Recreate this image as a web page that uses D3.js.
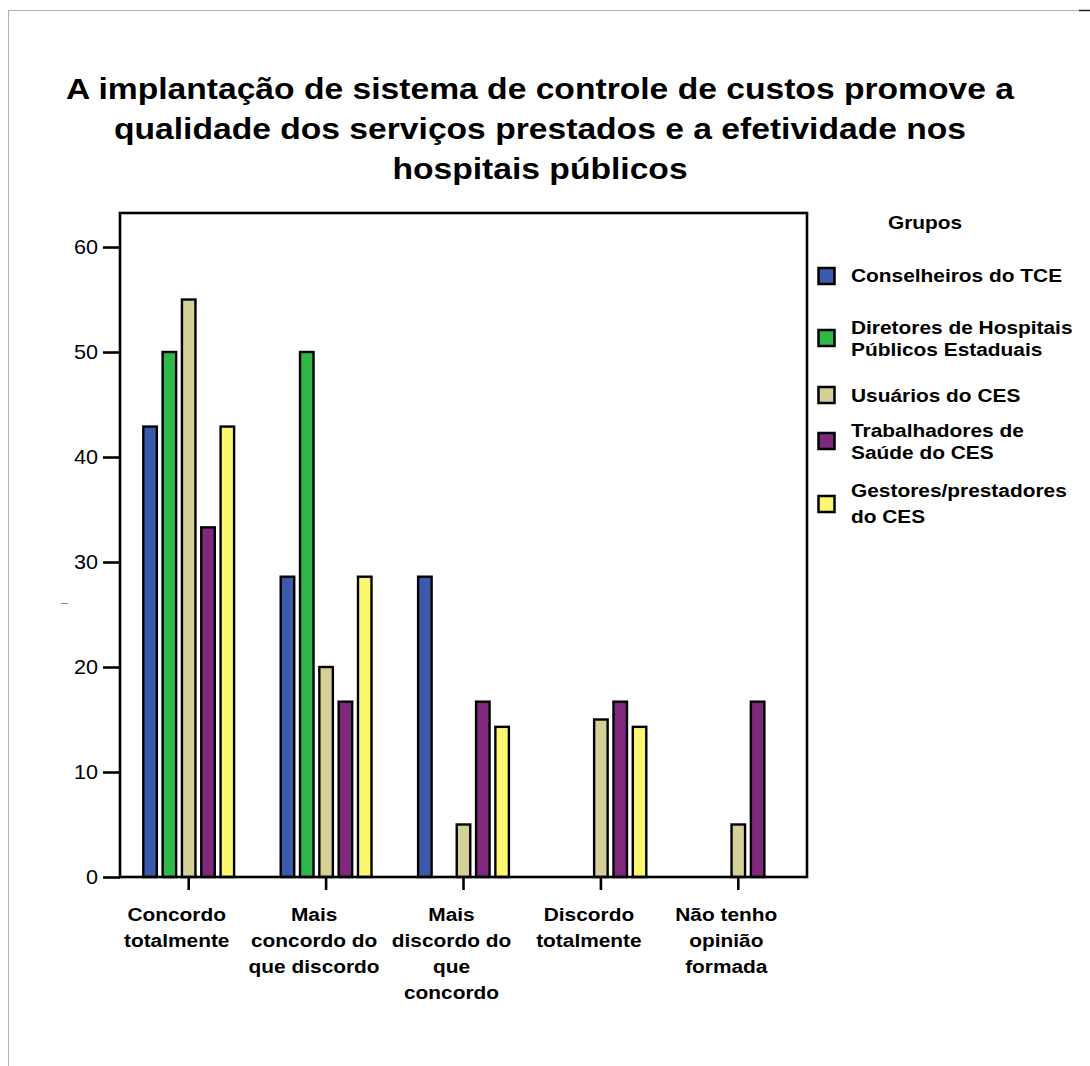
<!DOCTYPE html>
<html><head><meta charset="utf-8">
<script src="https://cdn.jsdelivr.net/npm/d3@7"></script>
<style>body{margin:0;background:#fff;} svg{display:block;font-family:"Liberation Sans",Arial,sans-serif;}</style>
</head><body>
<svg id="chart" width="1090" height="1066"></svg>
<script>
const titleLines = ["A implantação de sistema de controle de custos promove a","qualidade dos serviços prestados e a efetividade nos","hospitais públicos"];
const categories = ["Concordo totalmente","Mais concordo do que discordo","Mais discordo do que concordo","Discordo totalmente","Não tenho opinião formada"];
const categoryLabelLines = [["Concordo","totalmente"],["Mais","concordo do","que discordo"],["Mais","discordo do","que","concordo"],["Discordo","totalmente"],["Não tenho","opinião","formada"]];
const seriesNames = ["Conselheiros do TCE","Diretores de Hospitais Públicos Estaduais","Usuários do CES","Trabalhadores de Saúde do CES","Gestores/prestadores do CES"];
const legendLabelLines = [["Conselheiros do TCE"],["Diretores de Hospitais","Públicos Estaduais"],["Usuários do CES"],["Trabalhadores de","Saúde do CES"],["Gestores/prestadores","do CES"]];
const seriesColors = ["#3D59AC","#2FB84A","#D5CF98","#7E297C","#FBF770"];
const conselheiros = [42.9, 28.6, 28.6, 0, 0];
const diretores    = [50, 50, 0, 0, 0];
const usuarios     = [55, 20, 5, 15, 5];
const trabalhadores= [33.3, 16.7, 16.7, 16.7, 16.7];
const gestores     = [42.9, 28.6, 14.3, 14.3, 0];
const seriesValues = [conselheiros, diretores, usuarios, trabalhadores, gestores];
const yTicks = [0,10,20,30,40,50,60];
const legendTitle = "Grupos";

const SX = 1.16; // horizontal stretch of the reference text
const svg = d3.select("#chart");

function addText(x, y, lines, size, lh, anchor, weight, sx){
  const g = svg.append("g").attr("transform",`translate(${x},${y}) scale(${sx},1)`);
  const t = g.append("text").attr("text-anchor",anchor).attr("font-weight",weight)
    .attr("font-size",size).attr("fill","#000");
  lines.forEach((l,i)=>t.append("tspan").attr("x",0).attr("y",i*lh).text(l));
  return g;
}

// page border
svg.append("line").attr("x1",8).attr("x2",1090).attr("y1",10.5).attr("y2",10.5).attr("stroke","#b0b0b0").attr("stroke-width",1);
svg.append("line").attr("x1",8.5).attr("x2",8.5).attr("y1",10).attr("y2",1066).attr("stroke","#b0b0b0").attr("stroke-width",1);
svg.append("line").attr("x1",1079).attr("x2",1090).attr("y1",10.5).attr("y2",10.5).attr("stroke","#222").attr("stroke-width",1.5);

// title
addText(540, 98.5, titleLines, 29, 40.3, "middle", "bold", SX);

const pLeft=120, pRight=807, pTop=213, pBottom=877;
const x0 = d3.scaleBand().domain(categories).range([pLeft,pRight]).paddingInner(0).paddingOuter(0);
const x1 = d3.scaleBand().domain(seriesNames).range([-45.4,45.4]).paddingInner(0.3).paddingOuter(0);
const y = d3.scaleLinear().domain([0,63.24]).range([pBottom,pTop]);

// bars
const data = [];
categories.forEach((c,ci)=>seriesNames.forEach((s,si)=>{ if(seriesValues[si][ci]>0) data.push({c,s,si,v:seriesValues[si][ci]}); }));
svg.append("g").selectAll("rect").data(data).join("rect")
  .attr("x",d=>x0(d.c)+x0.bandwidth()/2+x1(d.s))
  .attr("width",x1.bandwidth())
  .attr("y",d=>y(d.v))
  .attr("height",d=>y(0)-y(d.v))
  .attr("fill",d=>seriesColors[d.si])
  .attr("stroke","#000").attr("stroke-width",2.4);

// frame
svg.append("rect").attr("x",pLeft).attr("y",pTop).attr("width",pRight-pLeft).attr("height",pBottom-pTop)
  .attr("fill","none").attr("stroke","#000").attr("stroke-width",2.6);

// y axis
const ysx = 1.08;
const ya = svg.append("g").attr("transform",`translate(${pLeft},0)`)
  .call(d3.axisLeft(y).tickValues(yTicks).tickSize(17).tickPadding(5));
ya.select(".domain").remove();
ya.selectAll(".tick line").attr("stroke","#000").attr("stroke-width",2.6);
ya.selectAll(".tick text").attr("font-size",20).attr("font-family","Liberation Sans, Arial, sans-serif").attr("fill","#000")
  .attr("x",-22/ysx).attr("transform",`scale(${ysx},1)`);

// x axis
const xa = svg.append("g").attr("transform",`translate(0,${pBottom})`)
  .call(d3.axisBottom(x0).tickSize(13).tickFormat(""));
xa.select(".domain").remove();
xa.selectAll(".tick line").attr("stroke","#000").attr("stroke-width",2.6);
categories.forEach((c,ci)=>{
  addText(x0(c)+x0.bandwidth()/2-12, 920.5, categoryLabelLines[ci], 18, 26.3, "middle", "bold", SX);
});

// stray y-axis title mark
svg.append("line").attr("x1",61).attr("x2",68).attr("y1",603.5).attr("y2",603.5).attr("stroke","#888").attr("stroke-width",1);

// legend
addText(925, 228.5, [legendTitle], 18, 27, "middle", "bold", SX);
const legendSwatchY = [276, 338, 395, 441, 504];
const legendFirstBaseline = [281.5, 333.5, 401.5, 436.5, 496.5];
const legendLineHeights = [0, 23, 0, 23, 27];
seriesNames.forEach((s,i)=>{
  const cy = legendSwatchY[i];
  svg.append("rect").attr("x",818.5).attr("y",cy-8).attr("width",16).attr("height",16)
    .attr("fill",seriesColors[i]).attr("stroke","#000").attr("stroke-width",2.5);
  addText(851, legendFirstBaseline[i], legendLabelLines[i], 18, legendLineHeights[i], "start", "bold", SX);
});
</script>
</body></html>
